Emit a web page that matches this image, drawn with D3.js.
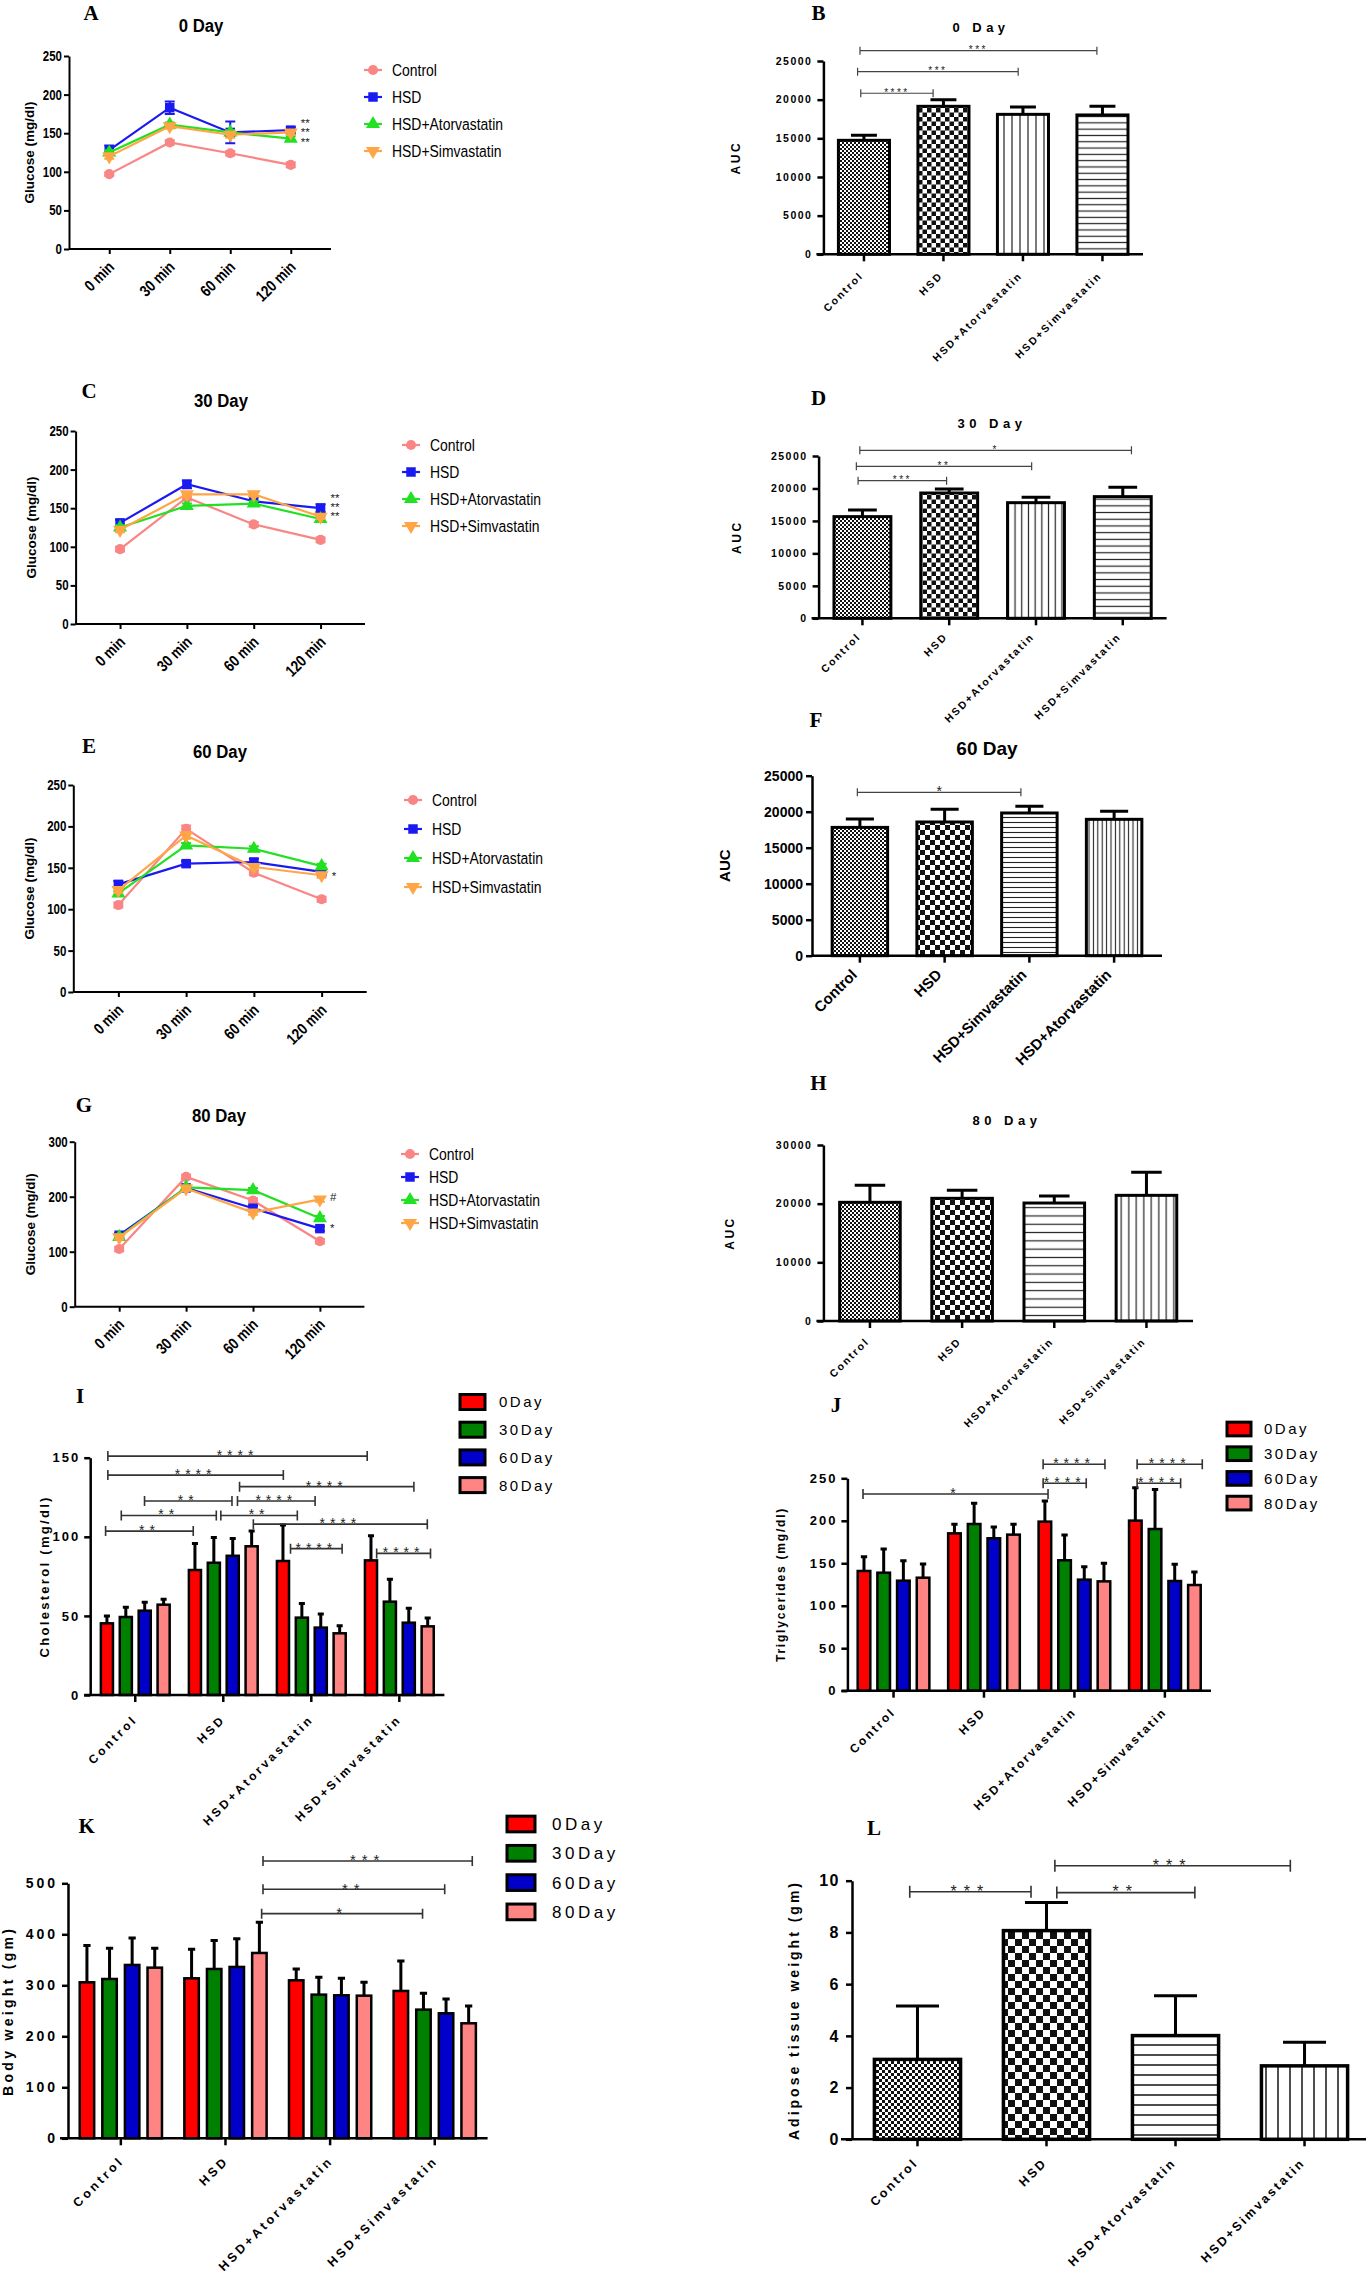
<!DOCTYPE html>
<html lang="en">
<head>
<meta charset="UTF-8">
<title>Glucose tolerance, AUC, lipids and weights</title>
<script src="https://cdn.jsdelivr.net/npm/d3@7"></script>
<style>
    body { margin: 0; background: #fff; }
    svg { display: block; }
</style>
</head>
<body>
<svg id="fig" width="1366" height="2277"></svg>
<script>
    // ---------- categories ----------
    const timePoints = ["0 min", "30 min", "60 min", "120 min"];
    const groups = ["Control", "HSD", "HSD+Atorvastatin", "HSD+Simvastatin"];
    const groupsF = ["Control", "HSD", "HSD+Simvastatin", "HSD+Atorvastatin"];
    const days = ["0Day", "30Day", "60Day", "80Day"];

    // ---------- glucose tolerance (mg/dl), rows = groups ----------
    const glucose0 = [[97, 138, 124, 109], [128, 183, 151, 154], [125, 161, 151, 143], [120, 159, 148, 151]];
    const glucose0Err = [[2, 3, 3, 3], [6, 8, 14, 4], [3, 3, 3, 3], [3, 3, 4, 3]];
    const glucose0Notes = [[163, "**"], [152, "**"], [139, "**"]];

    const glucose30 = [[97, 164, 129, 109], [131, 181, 159, 150], [125, 153, 156, 136], [122, 168, 168, 139]];
    const glucose30Err = [[3, 4, 3, 3], [4, 5, 6, 5], [3, 3, 3, 3], [3, 3, 3, 3]];
    const glucose30Notes = [[163, "**"], [152, "**"], [140, "**"]];

    const glucose60 = [[105, 197, 144, 112], [130, 155, 157, 145], [119, 177, 173, 152], [123, 189, 151, 141]];
    const glucose60Err = [[3, 4, 3, 3], [4, 3, 4, 3], [3, 3, 3, 3], [3, 4, 3, 3]];
    const glucose60Notes = [[140, "*"]];

    const glucose80 = [[105, 236, 193, 119], [130, 216, 179, 142], [127, 217, 212, 161], [126, 215, 171, 195]];
    const glucose80Err = [[4, 4, 4, 4], [4, 5, 4, 4], [4, 4, 4, 4], [4, 4, 4, 4]];
    const glucose80Notes = [[200, "#"], [143, "*"]];

    // ---------- AUC ----------
    const auc0 = [14740, 19140, 18100, 18020];
    const auc0Err = [650, 860, 950, 1120];
    const auc30 = [15660, 19300, 17810, 18740];
    const auc30Err = [1030, 620, 820, 1440];
    const auc60 = [17820, 18570, 19820, 18940];      // order of groupsF
    const auc60Err = [1160, 1760, 920, 1110];
    const auc80 = [20230, 20910, 20110, 21420];
    const auc80Err = [2900, 1360, 1190, 3920];

    // ---------- lipids and weights, rows = groups, cols = days ----------
    const cholesterol = [[45.3, 49.3, 53.3, 57.1], [79, 83.6, 88, 94], [84.7, 48.9, 42.6, 39], [85.1, 59, 45.7, 43.4]];
    const cholesterolErr = [[4.6, 6.1, 5.3, 3.4], [16.8, 16, 11, 9.6], [22.7, 9, 8.6, 4.8], [15.6, 14.1, 9.1, 5.3]];
    const triglycerides = [[140.9, 138.9, 129.5, 133], [185.2, 196.2, 179.4, 183.7], [199, 153.5, 130.7, 128.7], [200.2, 190.3, 129.1, 124.4]];
    const triglyceridesErr = [[16.9, 27.9, 23.5, 16.1], [10.6, 24.4, 13.3, 12.1], [24.3, 29.8, 15.3, 21.3], [38.8, 46.4, 19.6, 15.3]];
    const bodyWeight = [[305.9, 312.4, 339.9, 334.6], [313.7, 332, 336, 363.4], [309.8, 281.7, 280.4, 279.7], [288.9, 252.3, 245.1, 225.5]];
    const bodyWeightErr = [[71.9, 60.1, 52.9, 37.9], [56.9, 55.6, 55.5, 60.1], [22.2, 34, 33.3, 26.2], [58.8, 32, 28.1, 34]];
    const adipose = [3.09, 8.07, 4.01, 2.84];
    const adiposeErr = [2.06, 1.09, 1.54, 0.91];

    // ---------- significance brackets ----------
    // single bars: [from index, to index, level, label]
    const auc0Sig = [[-0.04, 0.87, 20830, "****"], [-0.08, 1.94, 23620, "***"], [-0.05, 2.93, 26340, "***"]];
    const auc30Sig = [[-0.05, 0.97, 21200, "***"], [-0.07, 1.95, 23410, "**"], [-0.03, 3.1, 25880, "*"]];
    const auc60Sig = [[-0.03, 1.9, 22690, "*"]];
    const auc80Sig = [];
    const adiposeSig = [[-0.06, 0.88, 9.57, "***"], [1.08, 2.15, 9.54, "**"], [1.065, 2.89, 10.58, "***"]];
    // grouped bars: [group, bar, group, bar, level, label]
    const cholesterolSig = [
        [0, 0.05, 3, -0.2, 151, "****"], [0, 0.05, 2, 0.02, 139, "****"], [1, 2.36, 3, 2.27, 131.7, "****"],
        [0, 1.99, 1, 1.96, 122.6, "**"], [1, 2.25, 2, 1.7, 122.6, "****"], [0, 0.76, 1, 1.13, 113.5, "**"],
        [1, 1.37, 2, 0.76, 113.5, "**"], [1, 3.09, 3, 2.98, 108, "****"], [0, -0.07, 1, -0.09, 103.6, "**"],
        [2, 0.4, 2, 3.13, 92.5, "****"], [3, 0.3, 3, 3.15, 89.5, "****"]
    ];
    const triglyceridesSig = [
        [0, -0.05, 2, 0.16, 231.6, "*"], [2, -0.09, 2, 2.1, 244.1, "****"], [2, -0.09, 2, 3.05, 266.5, "****"],
        [3, 0.09, 3, 2.3, 244.1, "****"], [3, 0.09, 3, 3.4, 266.5, "****"]
    ];
    const bodyWeightSig = [[1, 3.1, 3, 0.96, 440.5, "*"], [1, 3.16, 3, 1.94, 488.2, "**"], [1, 3.16, 3, 3.16, 543.8, "***"]];

    // ---------- styles ----------
    const SANS = "'Liberation Sans', Arial, Helvetica, sans-serif";
    const SERIF = "'Liberation Serif', 'Times New Roman', serif";
    const lineColors = ["#fa8585", "#1a1af0", "#22e022", "#ffa545"];
    const lineSymbols = [d3.symbolCircle, d3.symbolSquare, d3.symbolTriangle, d3.symbolTriangle];
    const lineSymbolSize = [80, 90, 85, 85];
    const dayColors = ["#ff0000", "#008000", "#0000c8", "#ff8585"];

    const svg = d3.select("#fig");
    svg.append("rect").attr("width", 1366).attr("height", 2277).attr("fill", "#fff");
    const defs = svg.append("defs");

    function txt(g, x, y, s, o = {}) {
        let tr = `translate(${x},${y})`;
        if (o.rot) tr += ` rotate(${o.rot})`;
        if (o.k && o.k !== 1) tr += ` scale(${o.k},1)`;
        return g.append("text")
            .attr("transform", tr)
            .attr("text-anchor", o.anchor || "start")
            .attr("font-family", o.family || SANS)
            .attr("font-size", o.size || 12)
            .attr("font-weight", o.weight || "normal")
            .attr("letter-spacing", o.ls || 0)
            .attr("fill", o.fill || "#000")
            .text(s);
    }

    function letter(g, x, y, s) {
        txt(g, x, y, s, {family: SERIF, size: 21, weight: "bold", anchor: "middle"});
    }

    function styleAxis(a, w) {
        a.select(".domain").attr("stroke", "#000").attr("stroke-width", w);
        a.selectAll(".tick line").attr("stroke", "#000").attr("stroke-width", w);
        a.selectAll(".tick text").remove();
    }

    function bracket(g, x1, x2, yy, label, st) {
        g.append("path")
            .attr("d", `M${x1},${yy - st.tick}V${yy + st.tick}M${x1},${yy}H${x2}M${x2},${yy - st.tick}V${yy + st.tick}`)
            .attr("fill", "none").attr("stroke", st.color).attr("stroke-width", st.w);
        txt(g, (x1 + x2) / 2, yy + st.size * 0.43 - 2, label,
            {anchor: "middle", size: st.size, ls: st.ls, fill: "#222"});
    }

    function makePatterns(id, p) {
        [["fine", p.fine], ["check", p.check]].forEach(([name, s]) => {
            const pt = defs.append("pattern").attr("id", `${id}-${name}`)
                .attr("patternUnits", "userSpaceOnUse").attr("width", 2 * s).attr("height", 2 * s);
            pt.append("rect").attr("width", 2 * s).attr("height", 2 * s).attr("fill", "#fff");
            pt.append("rect").attr("width", s).attr("height", s).attr("fill", "#111");
            pt.append("rect").attr("x", s).attr("y", s).attr("width", s).attr("height", s).attr("fill", "#111");
        });
        const v = defs.append("pattern").attr("id", `${id}-v`)
            .attr("patternUnits", "userSpaceOnUse").attr("width", p.v).attr("height", 4);
        v.append("rect").attr("width", p.v).attr("height", 4).attr("fill", "#fff");
        v.append("line").attr("x1", p.v / 2).attr("x2", p.v / 2).attr("y1", 0).attr("y2", 4)
            .attr("stroke", "#222").attr("stroke-width", p.lw);
        const h = defs.append("pattern").attr("id", `${id}-h`)
            .attr("patternUnits", "userSpaceOnUse").attr("width", 4).attr("height", p.h);
        h.append("rect").attr("width", 4).attr("height", p.h).attr("fill", "#fff");
        h.append("line").attr("y1", p.h / 2).attr("y2", p.h / 2).attr("x1", 0).attr("x2", 4)
            .attr("stroke", "#222").attr("stroke-width", p.lw);
    }

    // ---------- line panels (A, C, E, G) ----------
    function linePanel(o) {
        const g = svg.append("g");
        const x = d3.scalePoint().domain(timePoints).range([o.left, o.right]).padding(0.665);
        const y = d3.scaleLinear().domain([0, o.yMax]).range([o.bottom, o.top]);

        const ya = g.append("g").attr("transform", `translate(${o.left},0)`)
            .call(d3.axisLeft(y).tickValues(o.ticks).tickSize(5).tickSizeOuter(0));
        styleAxis(ya, 2);
        o.ticks.forEach(t => txt(g, o.left - 7, y(t) + 5, t, {anchor: "end", size: 14, weight: "bold", k: 0.82}));

        const xa = g.append("g").attr("transform", `translate(0,${o.bottom})`)
            .call(d3.axisBottom(x).tickSize(5).tickSizeOuter(0));
        styleAxis(xa, 2);
        xa.select(".domain").attr("d", `M${o.left},0H${o.right}`);
        timePoints.forEach(t => txt(g, x(t) + 6, o.bottom + 19, t,
            {anchor: "end", size: 16, weight: "bold", k: 0.82, rot: -45}));

        txt(g, o.ylX + 5, (o.top + o.bottom) / 2, "Glucose (mg/dl)",
            {rot: -90, anchor: "middle", size: 13.5, weight: "bold"});
        txt(g, o.titleX, o.titleY, o.title, {anchor: "middle", size: 19, weight: "bold", k: 0.88});
        letter(g, o.letterX, o.letterY, o.letter);

        const series = o.values.map((vals, i) => ({
            i, pts: vals.map((v, j) => ({t: timePoints[j], v, e: o.errors[i][j], i}))
        }));
        const line = d3.line().x(d => x(d.t)).y(d => y(d.v));
        const sg = g.selectAll("g.series").data(series).join("g").attr("class", "series");
        sg.selectAll("path.err").data(d => d.pts).join("path").attr("class", "err")
            .attr("d", p => {
                const xx = x(p.t), y1 = y(p.v + p.e), y2 = y(p.v - p.e);
                return `M${xx},${y2}V${y1}M${xx - 5},${y1}H${xx + 5}M${xx - 5},${y2}H${xx + 5}`;
            })
            .attr("fill", "none").attr("stroke", p => lineColors[p.i]).attr("stroke-width", 2);
        sg.append("path").attr("d", d => line(d.pts))
            .attr("fill", "none").attr("stroke", d => lineColors[d.i]).attr("stroke-width", 2.2);
        sg.selectAll("path.mark").data(d => d.pts).join("path").attr("class", "mark")
            .attr("transform", p => `translate(${x(p.t)},${y(p.v)})${p.i === 3 ? " rotate(180)" : ""}`)
            .attr("d", p => d3.symbol().type(lineSymbols[p.i]).size(lineSymbolSize[p.i])())
            .attr("fill", p => lineColors[p.i]);

        const lastX = x(timePoints[timePoints.length - 1]);
        o.notes.forEach(([v, s]) => txt(g, lastX + 10, y(v) + 4, s, {size: 11.5, fill: "#222"}));

        groups.forEach((name, i) => {
            const ry = o.legY + i * o.legStep;
            g.append("line").attr("x1", o.legX - 9).attr("x2", o.legX + 9).attr("y1", ry).attr("y2", ry)
                .attr("stroke", lineColors[i]).attr("stroke-width", 2.2);
            g.append("path").attr("transform", `translate(${o.legX},${ry})${i === 3 ? " rotate(180)" : ""}`)
                .attr("d", d3.symbol().type(lineSymbols[i]).size(lineSymbolSize[i])())
                .attr("fill", lineColors[i]);
            txt(g, o.legX + 19, ry + 6, name, {size: 17, k: 0.82});
        });
    }

    // ---------- single bar panels (B, D, F, H, L) ----------
    function barPanel(o) {
        const g = svg.append("g");
        const x = d3.scaleBand().domain(o.cats).range([o.left, o.right]).paddingInner(o.pi).paddingOuter(o.po);
        const y = d3.scaleLinear().domain([0, o.yMax]).range([o.bottom, o.top]);
        const xAt = f => x(o.cats[0]) + x.bandwidth() / 2 + f * x.step();
        makePatterns(o.letter, o.pat);
        const sw = o.sw;

        g.selectAll("rect.bar").data(o.values).join("rect").attr("class", "bar")
            .attr("x", (d, i) => x(o.cats[i]) + sw / 2)
            .attr("y", d => y(d))
            .attr("width", x.bandwidth() - sw)
            .attr("height", d => o.bottom - y(d))
            .attr("fill", (d, i) => `url(#${o.letter}-${o.fills[i]})`)
            .attr("stroke", "#000").attr("stroke-width", sw);
        const cap = x.bandwidth() * 0.24;
        g.selectAll("path.err").data(o.values).join("path").attr("class", "err")
            .attr("d", (d, i) => {
                const cx = x(o.cats[i]) + x.bandwidth() / 2, yt = y(d + o.errors[i]);
                return `M${cx},${y(d)}V${yt}M${cx - cap},${yt}H${cx + cap}`;
            })
            .attr("fill", "none").attr("stroke", "#000").attr("stroke-width", 3);

        const ya = g.append("g").attr("transform", `translate(${o.left},0)`)
            .call(d3.axisLeft(y).tickValues(o.ticks).tickSize(6).tickSizeOuter(0));
        styleAxis(ya, 2.5);
        o.ticks.forEach(t => txt(g, o.left - o.tick.gap, y(t) + o.tick.size * 0.36, t,
            {anchor: "end", size: o.tick.size, weight: "bold", ls: o.tick.ls}));

        const xa = g.append("g").attr("transform", `translate(0,${o.bottom})`)
            .call(d3.axisBottom(x).tickSize(7).tickSizeOuter(0));
        styleAxis(xa, 2.5);
        xa.select(".domain").attr("d", `M${o.left - o.over},0H${o.right}`);
        o.cats.forEach(c => txt(g, x(c) + x.bandwidth() / 2 + o.xl.dx, o.bottom + o.xl.dy, c,
            {anchor: "end", size: o.xl.size, weight: "bold", ls: o.xl.ls, rot: -45}));

        txt(g, o.ylX + o.yl.size * 0.36, (o.top + o.bottom) / 2, o.ylabel,
            {rot: -90, anchor: "middle", size: o.yl.size, weight: "bold", ls: o.yl.ls});
        if (o.title) txt(g, o.titleX, o.titleY, o.title,
            {anchor: "middle", size: o.titleStyle.size, weight: "bold", ls: o.titleStyle.ls});
        letter(g, o.letterX, o.letterY, o.letter);

        o.sig.forEach(([a, b, lv, s]) => bracket(g, xAt(a), xAt(b), y(lv), s, o.star));
    }

    // ---------- grouped bar panels (I, J, K) ----------
    function groupedPanel(o) {
        const g = svg.append("g");
        const sw = 2.5;
        const x0 = d3.scaleBand().domain(groups).range([o.left, o.right]).paddingInner(o.pi).paddingOuter(o.po);
        const x1 = d3.scaleBand().domain(days).range([sw / 2, x0.bandwidth() - sw / 2]).paddingInner(0.36);
        const y = d3.scaleLinear().domain([0, o.yMax]).range([o.bottom, o.top]);
        const xAt = (gi, s) => x0(groups[gi]) + x1(days[0]) + x1.bandwidth() / 2 + s * x1.step();

        const cells = [];
        o.values.forEach((row, gi) => row.forEach((v, di) => cells.push({gi, di, v, e: o.errors[gi][di]})));
        g.selectAll("rect.bar").data(cells).join("rect").attr("class", "bar")
            .attr("x", d => x0(groups[d.gi]) + x1(days[d.di]))
            .attr("y", d => y(d.v))
            .attr("width", x1.bandwidth())
            .attr("height", d => o.bottom - y(d.v))
            .attr("fill", d => dayColors[d.di])
            .attr("stroke", "#000").attr("stroke-width", sw);
        const cap = x1.bandwidth() * 0.25;
        g.selectAll("path.err").data(cells).join("path").attr("class", "err")
            .attr("d", d => {
                const cx = x0(groups[d.gi]) + x1(days[d.di]) + x1.bandwidth() / 2, yt = y(d.v + d.e);
                return `M${cx},${y(d.v)}V${yt}M${cx - cap},${yt}H${cx + cap}`;
            })
            .attr("fill", "none").attr("stroke", "#000").attr("stroke-width", 3);

        const ya = g.append("g").attr("transform", `translate(${o.left},0)`)
            .call(d3.axisLeft(y).tickValues(o.ticks).tickSize(6).tickSizeOuter(0));
        styleAxis(ya, 2.5);
        o.ticks.forEach(t => txt(g, o.left - 10, y(t) + o.tick.size * 0.36, t,
            {anchor: "end", size: o.tick.size, weight: "bold", ls: o.tick.ls}));

        const xa = g.append("g").attr("transform", `translate(0,${o.bottom})`)
            .call(d3.axisBottom(x0).tickSize(7).tickSizeOuter(0));
        styleAxis(xa, 2.5);
        xa.select(".domain").attr("d", `M${o.left - o.over},0H${o.right}`);
        groups.forEach(c => txt(g, x0(c) + x0.bandwidth() / 2 + o.xl.dx, o.bottom + o.xl.dy, c,
            {anchor: "end", size: o.xl.size, weight: "bold", ls: o.xl.ls, rot: -45}));

        txt(g, o.ylX + o.yl.size * 0.36, (o.top + o.bottom) / 2, o.ylabel,
            {rot: -90, anchor: "middle", size: o.yl.size, weight: "bold", ls: o.yl.ls});
        letter(g, o.letterX, o.letterY, o.letter);

        days.forEach((d, i) => {
            const ry = o.leg.y + i * o.leg.step;
            g.append("rect").attr("x", o.leg.x).attr("y", ry - o.leg.h / 2)
                .attr("width", o.leg.w).attr("height", o.leg.h)
                .attr("fill", dayColors[i]).attr("stroke", "#000").attr("stroke-width", 3);
            txt(g, o.leg.tx, ry + o.leg.size * 0.36, d, {size: o.leg.size, ls: o.leg.ls});
        });

        o.sig.forEach(([ga, sa, gb, sb, lv, s]) => bracket(g, xAt(ga, sa), xAt(gb, sb), y(lv), s, o.star));
    }

    const thinStar = {size: 10, ls: 2.5, color: "#444", w: 1.2, tick: 4};
    const spacedBar = {
        sw: 3, over: 7,
        tick: {size: 10.5, ls: 1.5, gap: 11},
        xl: {size: 10.5, ls: 2, dx: 0, dy: 22},
        yl: {size: 12, ls: 2.5},
        titleStyle: {size: 13, ls: 4.5},
        star: thinStar
    };

    linePanel({letter: "A", letterX: 91, letterY: 20, title: "0 Day", titleX: 201, titleY: 32,
        values: glucose0, errors: glucose0Err, notes: glucose0Notes, yMax: 250, ticks: d3.range(0, 251, 50),
        left: 69, right: 331, top: 56, bottom: 249, legX: 373, legY: 70, legStep: 27, ylX: 29});
    linePanel({letter: "C", letterX: 89, letterY: 398, title: "30 Day", titleX: 221, titleY: 407,
        values: glucose30, errors: glucose30Err, notes: glucose30Notes, yMax: 250, ticks: d3.range(0, 251, 50),
        left: 75.6, right: 365, top: 431, bottom: 624, legX: 411, legY: 445, legStep: 27, ylX: 31});
    linePanel({letter: "E", letterX: 89, letterY: 753, title: "60 Day", titleX: 220, titleY: 758,
        values: glucose60, errors: glucose60Err, notes: glucose60Notes, yMax: 250, ticks: d3.range(0, 251, 50),
        left: 73.3, right: 366.7, top: 785, bottom: 992, legX: 413, legY: 800, legStep: 29, ylX: 29});
    linePanel({letter: "G", letterX: 84, letterY: 1112, title: "80 Day", titleX: 219, titleY: 1122,
        values: glucose80, errors: glucose80Err, notes: glucose80Notes, yMax: 300, ticks: [0, 100, 200, 300],
        left: 74.7, right: 364.4, top: 1141.7, bottom: 1306.7, legX: 410, legY: 1154, legStep: 23, ylX: 30});

    barPanel({...spacedBar, letter: "B", letterX: 818.5, letterY: 20, title: "0 Day", titleX: 981, titleY: 32,
        cats: groups, values: auc0, errors: auc0Err, sig: auc0Sig, fills: ["fine", "check", "v", "h"],
        pat: {fine: 2, check: 4.5, v: 8, h: 6.3, lw: 1.2}, yMax: 25000, ticks: d3.range(0, 25001, 5000),
        left: 823.4, right: 1143, top: 61, bottom: 254.3, pi: 0.32, po: 0.17, ylX: 736, ylabel: "AUC"});
    barPanel({...spacedBar, letter: "D", letterX: 818.5, letterY: 405, title: "30 Day", titleX: 992, titleY: 428,
        cats: groups, values: auc30, errors: auc30Err, sig: auc30Sig, fills: ["fine", "check", "v", "h"],
        pat: {fine: 2, check: 4.5, v: 6.7, h: 6.7, lw: 1.2}, yMax: 25000, ticks: d3.range(0, 25001, 5000),
        left: 818.6, right: 1166.6, top: 456, bottom: 618.3, pi: 0.31, po: 0.16, ylX: 737, ylabel: "AUC",
        xl: {size: 10.5, ls: 2, dx: -1, dy: 19}});
    barPanel({...spacedBar, letter: "F", letterX: 816, letterY: 727, title: "60 Day", titleX: 987, titleY: 755,
        titleStyle: {size: 19, ls: 0},
        cats: groupsF, values: auc60, errors: auc60Err, sig: auc60Sig, fills: ["fine", "check", "h", "v"],
        pat: {fine: 2, check: 5, v: 4.4, h: 5, lw: 1.1}, yMax: 25000, ticks: d3.range(0, 25001, 5000),
        left: 812, right: 1162, top: 775.7, bottom: 955.7, pi: 0.31, po: 0.22, ylX: 725, ylabel: "AUC", over: 0,
        tick: {size: 14, ls: 0, gap: 9}, xl: {size: 15, ls: 0, dx: -2, dy: 20}, yl: {size: 15, ls: 0},
        star: {size: 14, ls: 0, color: "#444", w: 1.2, tick: 4}});
    barPanel({...spacedBar, letter: "H", letterX: 818.5, letterY: 1090, title: "80 Day", titleX: 1007, titleY: 1125,
        cats: groups, values: auc80, errors: auc80Err, sig: auc80Sig, fills: ["fine", "check", "h", "v"],
        pat: {fine: 2, check: 5, v: 7.5, h: 8.3, lw: 1.2}, yMax: 30000, ticks: [0, 10000, 20000, 30000],
        left: 823.4, right: 1193, top: 1145, bottom: 1321, pi: 0.31, po: 0.16, ylX: 730, ylabel: "AUC",
        xl: {size: 10.5, ls: 2, dx: 0, dy: 21}});
    barPanel({letter: "L", letterX: 874, letterY: 1835, title: null,
        cats: groups, values: adipose, errors: adiposeErr, sig: adiposeSig, fills: ["fine", "check", "h", "v"],
        pat: {fine: 3, check: 7, v: 12, h: 10, lw: 1.6}, yMax: 10, ticks: d3.range(0, 11, 2),
        left: 852, right: 1370, top: 1880.7, bottom: 2139.3, pi: 0.305, po: 0.16, ylX: 794,
        ylabel: "Adipose tissue weight (gm)", sw: 3.5, over: 11,
        tick: {size: 16, ls: 1.5, gap: 12}, xl: {size: 12.5, ls: 2.5, dx: 1.5, dy: 24}, yl: {size: 14, ls: 3},
        star: {size: 16, ls: 7, color: "#333", w: 1.6, tick: 6}});

    const boldStar = {size: 14, ls: 5, color: "#333", w: 1.6, tick: 5};
    groupedPanel({letter: "I", letterX: 80, letterY: 1403, values: cholesterol, errors: cholesterolErr,
        sig: cholesterolSig, yMax: 150, ticks: [0, 50, 100, 150],
        left: 90.2, right: 444.4, top: 1457.7, bottom: 1695, pi: 0.19, po: 0.107, over: 6,
        leg: {x: 460, w: 25, h: 15, y: 1402, step: 27.7, tx: 499, size: 15, ls: 2.5},
        ylabel: "Cholesterol (mg/dl)", ylX: 44.4, yl: {size: 13, ls: 2.3}, tick: {size: 13, ls: 2},
        xl: {size: 12, ls: 3, dx: 3, dy: 25}, star: boldStar});
    groupedPanel({letter: "J", letterX: 836, letterY: 1412, values: triglycerides, errors: triglyceridesErr,
        sig: triglyceridesSig, yMax: 250, ticks: d3.range(0, 251, 50),
        left: 847.4, right: 1211, top: 1478.3, bottom: 1690.7, pi: 0.18, po: 0.1, over: 6,
        leg: {x: 1227, w: 24, h: 13.7, y: 1429, step: 24.7, tx: 1264, size: 15, ls: 2.5},
        ylabel: "Triglycerides (mg/dl)", ylX: 780.8, yl: {size: 12, ls: 1.8}, tick: {size: 13, ls: 2},
        xl: {size: 12, ls: 2.3, dx: 2.6, dy: 22}, star: boldStar});
    groupedPanel({letter: "K", letterX: 86.7, letterY: 1833, values: bodyWeight, errors: bodyWeightErr,
        sig: bodyWeightSig, yMax: 500, ticks: d3.range(0, 501, 100),
        left: 68, right: 487.6, top: 1883.3, bottom: 2138.3, pi: 0.19, po: 0.1, over: 8,
        leg: {x: 507, w: 28, h: 15.7, y: 1824, step: 29.3, tx: 552, size: 17, ls: 3.5},
        ylabel: "Body weight (gm)", ylX: 8, yl: {size: 14, ls: 3.3}, tick: {size: 14, ls: 3},
        xl: {size: 12.5, ls: 3.1, dx: 4, dy: 23}, star: {size: 15, ls: 6, color: "#333", w: 1.6, tick: 5}});
</script>
</body>
</html>
